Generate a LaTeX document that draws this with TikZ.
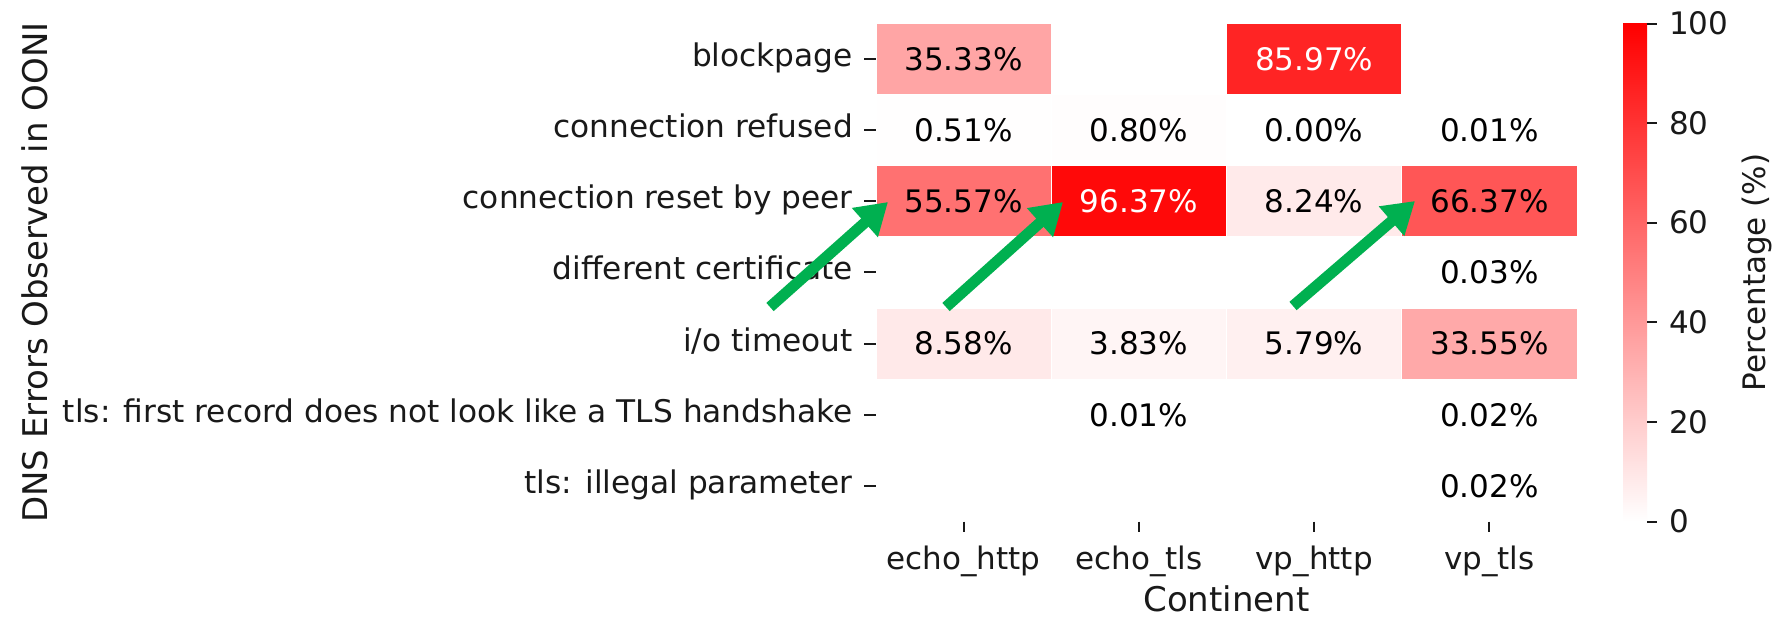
\documentclass[tikz,border=0pt]{standalone}
\usepackage{fontspec}
\setmainfont{DejaVu Sans}
\usetikzlibrary{arrows.meta}
\definecolor{hmred}{RGB}{255,0,0}
\definecolor{hlgreen}{RGB}{0,176,80}
\definecolor{axisgray}{RGB}{25,25,25}
\tikzset{
  cellbox/.style={minimum width=175.25pt, minimum height=71.14pt, inner sep=0pt, draw=white, line width=1pt, font=\fontsize{31}{37}\selectfont},
  ticklbl/.style={inner sep=0pt, font=\fontsize{31}{37}\selectfont, text=axisgray},
  rowlbl/.style={inner sep=0pt, font=\fontsize{31.2}{37}\selectfont, text=axisgray},
  axlbl/.style={inner sep=0pt, font=\fontsize{34}{40}\selectfont, text=axisgray},
  tickmark/.style={draw=axisgray, line width=2pt},
  hlarrow/.style={draw=hlgreen, line width=11pt, -{Triangle[length=31pt,width=37pt]}},
}
\newcommand\hmcell[5]{%
  \node[cellbox, fill=hmred!#4!white, text=#5] (#1) at ({876+175.25*(#2+0.5)},{23.5+71.14*(#3+0.5)}) {#4\%};}
\begin{document}
\begin{tikzpicture}[x=1pt,y=-1pt]
\useasboundingbox[fill=white] (0,0) rectangle (1776,616);
% heatmap cells
\hmcell{c00}{0}{0}{35.33}{black}
\hmcell{c20}{2}{0}{85.97}{white}
\hmcell{c01}{0}{1}{0.51}{black}
\hmcell{c11}{1}{1}{0.80}{black}
\hmcell{c21}{2}{1}{0.00}{black}
\hmcell{c31}{3}{1}{0.01}{black}
\hmcell{c02}{0}{2}{55.57}{black}
\hmcell{c12}{1}{2}{96.37}{white}
\hmcell{c22}{2}{2}{8.24}{black}
\hmcell{c32}{3}{2}{66.37}{black}
\hmcell{c33}{3}{3}{0.03}{black}
\hmcell{c04}{0}{4}{8.58}{black}
\hmcell{c14}{1}{4}{3.83}{black}
\hmcell{c24}{2}{4}{5.79}{black}
\hmcell{c34}{3}{4}{33.55}{black}
\hmcell{c15}{1}{5}{0.01}{black}
\hmcell{c35}{3}{5}{0.02}{black}
\hmcell{c36}{3}{6}{0.02}{black}
% row labels and ticks
\foreach \lbl [count=\i from 0] in {blockpage,connection refused,connection reset by peer,different certificate,i/o timeout,tls: first record does not look like a TLS handshake,tls: illegal parameter}{
  \pgfmathsetmacro\yc{23.5+71.14*(\i+0.5)}
  \draw[tickmark] (864,\yc) -- (876,\yc);
  \node[rowlbl, anchor=base east] (row\i) at (853,\yc+7.5) {\lbl};
}
% column labels and ticks
\foreach \lbl [count=\j from 0] in {echo\_http,echo\_tls,vp\_http,vp\_tls}{
  \pgfmathsetmacro\xc{876+175.25*(\j+0.5)}
  \draw[tickmark] (\xc,521.5) -- (\xc,531.5);
  \node[ticklbl, anchor=base] (col\j) at (\xc,569.5) {\lbl};
}
\node[axlbl, anchor=base] (xlab) at (1226.5,611) {Continent};
\node[axlbl, rotate=90, anchor=base] (ylab) at (47,272.5) {DNS Errors Observed in OONI};
% colour bar
\shade[top color=hmred, bottom color=white] (1623,23.5) rectangle (1647,521.5);
\foreach \v in {0,20,...,100}{
  \pgfmathsetmacro\yy{521.5-4.98*\v}
  \draw[tickmark] (1647,\yy) -- (1657,\yy);
  \node[ticklbl, anchor=west] (cb\v) at (1669,\yy) {\v};
}
\node[ticklbl, rotate=90, anchor=base] (cblab) at (1765,272.5) {Percentage (\%)};
% highlight arrows
\coordinate (t1) at (770,307); \coordinate (h1) at (888,202);
\coordinate (t2) at (946,307); \coordinate (h2) at (1063,202);
\coordinate (t3) at (1293,306); \coordinate (h3) at (1415,201);
\draw[hlarrow] (t1) -- (h1);
\draw[hlarrow] (t2) -- (h2);
\draw[hlarrow] (t3) -- (h3);
\end{tikzpicture}
\end{document}
